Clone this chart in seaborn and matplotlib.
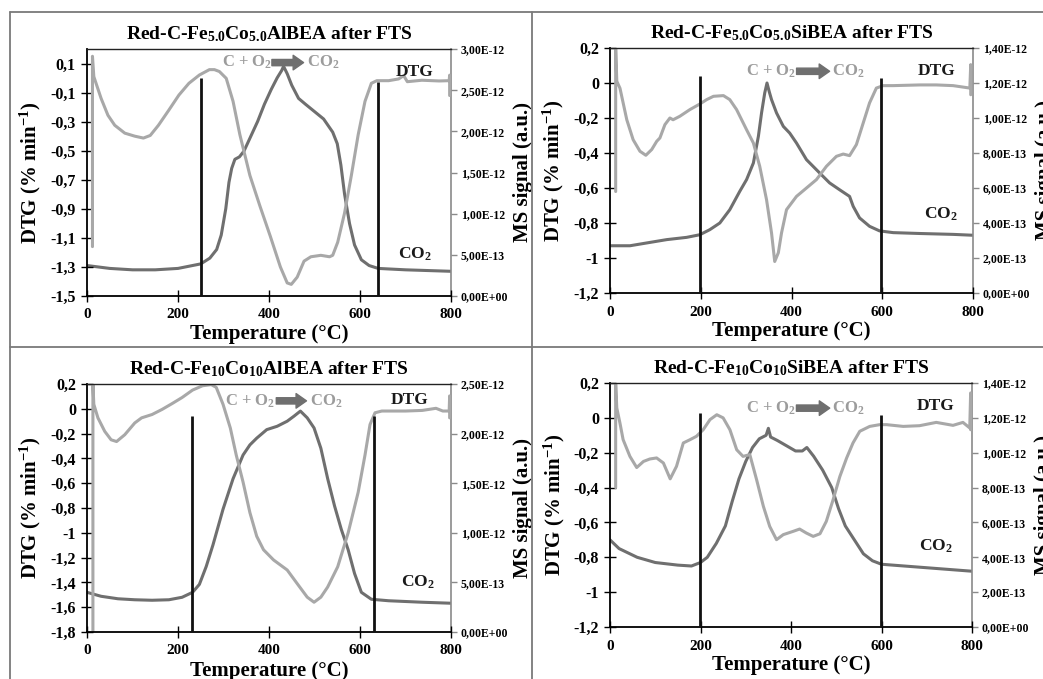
import matplotlib
matplotlib.use("Agg")
import matplotlib.pyplot as plt
from matplotlib.lines import Line2D
import seaborn as sns

sns.set_theme(style="white")
plt.rcParams['font.family'] = ['Liberation Serif', 'DejaVu Serif']
plt.rcParams['font.weight'] = 'bold'
plt.rcParams['mathtext.fontset'] = 'custom'
plt.rcParams['mathtext.rm'] = 'Liberation Serif:bold'
plt.rcParams['mathtext.bf'] = 'Liberation Serif:bold'
plt.rcParams['mathtext.it'] = 'Liberation Serif:bold'
plt.rcParams['mathtext.default'] = 'bf'

# ---------------- data ----------------
titles = ["Red-C-Fe$_{5.0}$Co$_{5.0}$AlBEA after FTS",
          "Red-C-Fe$_{5.0}$Co$_{5.0}$SiBEA after FTS",
          "Red-C-Fe$_{10}$Co$_{10}$AlBEA after FTS",
          "Red-C-Fe$_{10}$Co$_{10}$SiBEA after FTS"]

x_ticks = [0, 200, 400, 600, 800]
x_tick_labels = ["0", "200", "400", "600", "800"]

# Panel 1: Fe5.0Co5.0AlBEA
t_dtg_1 = [12, 12, 15, 31, 46, 61, 83, 105, 124, 139, 157, 180, 202, 224, 247, 269, 280, 291, 306, 321,
           336, 358, 380, 403, 425, 440, 449, 462, 477, 492, 514, 533, 540, 551, 566, 581, 596, 611, 625,
           637, 663, 685, 696, 704, 736, 774, 796, 797, 797]
dtg_1 = [-1.16, 0.15, 0.01, -0.14, -0.256, -0.325, -0.379, -0.40, -0.413, -0.395, -0.325, -0.22, -0.117,
         -0.036, 0.021, 0.058, 0.058, 0.045, -0.002, -0.16, -0.39, -0.67, -0.88, -1.09, -1.30, -1.41, -1.42,
         -1.37, -1.26, -1.23, -1.22, -1.23, -1.22, -1.13, -0.93, -0.67, -0.39, -0.16, -0.036, -0.018,
         -0.018, -0.006, 0.017, -0.025, -0.015, -0.02, -0.018, 0.02, -0.12]
t_co2_1 = [0, 50, 100, 150, 200, 250, 270, 285, 295, 305, 312, 318, 325, 335, 345, 360, 375, 390, 405, 418,
           428, 432, 440, 450, 465, 480, 500, 520, 540, 550, 558, 566, 577, 588, 603, 620, 640, 700, 800]
co2_1 = [0.37, 0.335, 0.318, 0.318, 0.335, 0.39, 0.46, 0.565, 0.74, 1.06, 1.38, 1.55, 1.66, 1.69, 1.76,
         1.94, 2.12, 2.33, 2.51, 2.65, 2.74, 2.79, 2.70, 2.56, 2.40, 2.33, 2.24, 2.15, 1.99, 1.85, 1.59,
         1.24, 0.88, 0.62, 0.44, 0.37, 0.335, 0.318, 0.30]
vline_t_1 = [251, 639]
vline_top_1 = [0.0, -0.03]
left_ticks_1 = [-1.5, -1.3, -1.1, -0.9, -0.7, -0.5, -0.3, -0.1, 0.1]
left_labels_1 = ["-1,5", "-1,3", "-1,1", "-0,9", "-0,7", "-0,5", "-0,3", "-0,1", "0,1"]
right_ticks_1 = [0, 0.5, 1.0, 1.5, 2.0, 2.5, 3.0]
right_labels_1 = ["0,00E+00", "5,00E-13", "1,00E-12", "1,50E-12", "2,00E-12", "2,50E-12", "3,00E-12"]

# Panel 2: Fe5.0Co5.0SiBEA
t_dtg_2 = [12.5, 12.5, 15, 22, 29, 37, 51, 66, 79, 92, 103, 110, 121, 132, 139, 154, 176, 198, 213, 228,
           250, 264, 279, 301, 316, 330, 345, 356, 363, 371, 378, 389, 411, 433, 455, 477, 499, 514, 528,
           543, 558, 572, 587, 602, 624, 683, 719, 756, 793, 795, 795]
dtg_2 = [-0.62, 0.2, 0.01, -0.03, -0.114, -0.21, -0.324, -0.39, -0.413, -0.38, -0.333, -0.314, -0.238,
         -0.2, -0.21, -0.19, -0.152, -0.12, -0.095, -0.076, -0.072, -0.095, -0.152, -0.267, -0.343, -0.476,
         -0.667, -0.857, -1.02, -0.97, -0.857, -0.724, -0.648, -0.6, -0.552, -0.476, -0.419, -0.406,
         -0.415, -0.352, -0.229, -0.114, -0.029, -0.015, -0.015, -0.011, -0.011, -0.015, -0.029, 0.105,
         -0.067]
t_co2_2 = [0, 44, 81, 125, 169, 198, 220, 242, 264, 286, 301, 316, 327, 334, 341, 346, 351, 356, 367, 382,
           396, 411, 433, 462, 484, 506, 528, 536, 550, 572, 594, 624, 683, 756, 800]
co2_2 = [0.27, 0.27, 0.286, 0.305, 0.318, 0.333, 0.362, 0.40, 0.476, 0.581, 0.648, 0.743, 0.895, 1.029,
         1.143, 1.20, 1.15, 1.105, 1.029, 0.952, 0.914, 0.857, 0.762, 0.686, 0.629, 0.590, 0.552, 0.495,
         0.429, 0.381, 0.355, 0.345, 0.34, 0.335, 0.33]
vline_t_2 = [198, 598]
vline_top_2 = [0.038, 0.029]
left_ticks_2 = [-1.2, -1.0, -0.8, -0.6, -0.4, -0.2, 0.0, 0.2]
left_labels_2 = ["-1,2", "-1", "-0,8", "-0,6", "-0,4", "-0,2", "0", "0,2"]
right_ticks_2 = [0, 0.2, 0.4, 0.6, 0.8, 1.0, 1.2, 1.4]
right_labels_2 = ["0,00E+00", "2,00E-13", "4,00E-13", "6,00E-13", "8,00E-13", "1,00E-12", "1,20E-12",
                  "1,40E-12"]

# Panel 3: Fe10Co10AlBEA
t_dtg_3 = [13, 13, 15, 24, 39, 53, 65, 83, 105, 120, 143, 165, 187, 209, 232, 254, 273, 284, 299, 315,
           328, 343, 358, 373, 388, 410, 440, 462, 484, 499, 514, 529, 551, 574, 596, 611, 622, 633, 648,
           700, 737, 767, 782, 796, 797, 797]
dtg_3 = [-1.8, 0.2, 0.036, -0.073, -0.182, -0.25, -0.264, -0.209, -0.114, -0.073, -0.046, -0.005, 0.042,
         0.091, 0.151, 0.186, 0.195, 0.173, 0.036, -0.155, -0.373, -0.591, -0.837, -1.028, -1.137, -1.219,
         -1.30, -1.41, -1.519, -1.56, -1.519, -1.437, -1.274, -1.0, -0.673, -0.373, -0.127, -0.032, -0.018,
         -0.018, -0.013, 0.004, -0.018, -0.018, 0.104, -0.073]
t_co2_3 = [0, 31, 68, 105, 143, 180, 209, 232, 247, 262, 277, 299, 321, 343, 358, 373, 395, 418, 440, 455,
           469, 484, 499, 514, 529, 544, 559, 574, 588, 603, 625, 663, 737, 800]
co2_3 = [0.40, 0.36, 0.335, 0.325, 0.32, 0.325, 0.35, 0.40, 0.48, 0.66, 0.88, 1.238, 1.545, 1.784,
         1.886, 1.954, 2.04, 2.074, 2.125, 2.176, 2.227, 2.159, 2.057, 1.852, 1.545, 1.272, 1.033, 0.829,
         0.59, 0.40, 0.33, 0.315, 0.30, 0.29]
vline_t_3 = [230, 631]
vline_top_3 = [-0.06, -0.06]
left_ticks_3 = [-1.8, -1.6, -1.4, -1.2, -1.0, -0.8, -0.6, -0.4, -0.2, 0.0, 0.2]
left_labels_3 = ["-1,8", "-1,6", "-1,4", "-1,2", "-1", "-0,8", "-0,6", "-0,4", "-0,2", "0", "0,2"]
right_ticks_3 = [0, 0.5, 1.0, 1.5, 2.0, 2.5]
right_labels_3 = ["0,00E+00", "5,00E-13", "1,00E-12", "1,50E-12", "2,00E-12", "2,50E-12"]

# Panel 4: Fe10Co10SiBEA
t_dtg_4 = [12.5, 12.5, 15, 22, 29, 44, 59, 74, 88, 103, 118, 133, 147, 162, 177, 191, 206, 221, 236, 250,
           265, 280, 294, 309, 324, 339, 353, 368, 383, 405, 419, 434, 449, 464, 478, 493, 508, 523, 537,
           552, 574, 596, 611, 648, 684, 721, 758, 780, 795, 797, 797]
dtg_4 = [-0.40, 0.2, 0.057, -0.03, -0.125, -0.221, -0.285, -0.25, -0.236, -0.23, -0.259, -0.35, -0.278,
         -0.144, -0.125, -0.106, -0.068, -0.01, 0.018, 0.0, -0.068, -0.183, -0.221, -0.211, -0.355, -0.508,
         -0.623, -0.699, -0.67, -0.651, -0.638, -0.661, -0.68, -0.665, -0.594, -0.47, -0.336, -0.23,
         -0.144, -0.077, -0.049, -0.039, -0.039, -0.049, -0.045, -0.026, -0.043, -0.026, -0.058, 0.143,
         -0.068]
t_co2_4 = [0, 20, 60, 100, 150, 180, 200, 215, 235, 255, 270, 285, 300, 315, 330, 345, 350, 355, 370, 390,
           410, 425, 435, 450, 470, 490, 505, 520, 540, 560, 580, 600, 650, 700, 750, 800]
co2_4 = [0.50, 0.45, 0.40, 0.37, 0.355, 0.35, 0.37, 0.40, 0.48, 0.58, 0.72, 0.85, 0.95, 1.03, 1.08, 1.10,
         1.14, 1.09, 1.07, 1.04, 1.01, 1.01, 1.03, 0.98, 0.90, 0.80, 0.68, 0.58, 0.50, 0.42, 0.38, 0.36,
         0.35, 0.34, 0.33, 0.32]
vline_t_4 = [199, 598]
vline_top_4 = [0.028, 0.018]
left_ticks_4 = left_ticks_2
left_labels_4 = left_labels_2
right_ticks_4 = right_ticks_2
right_labels_4 = right_labels_2

ms_scale = 1e-12

# ---------------- styling / layout ----------------
W, H = 1043, 679
fig = plt.figure(figsize=(W / 100, H / 100), dpi=100)

def px_axes(x0, x1, ytop, ybot):
    return [x0 / W, 1 - ybot / H, (x1 - x0) / W, (ybot - ytop) / H]

panels = [
    dict(rect=px_axes(87, 451, 49, 296), title=titles[0], t_dtg=t_dtg_1, dtg=dtg_1, t_co2=t_co2_1,
         co2=co2_1, vt=vline_t_1, vtop=vline_top_1, lt=left_ticks_1, ll=left_labels_1,
         rt=right_ticks_1, rl=right_labels_1, ylim=(-1.5, 0.2), rlim=(0, 3.0),
         eq=(0.371, 0.945, 0.508, 0.595, 0.604), dtg_lab=(0.90, 0.906), co2_lab=(0.90, 0.17)),
    dict(rect=px_axes(610, 973, 48, 293), title=titles[1], t_dtg=t_dtg_2, dtg=dtg_2, t_co2=t_co2_2,
         co2=co2_2, vt=vline_t_2, vtop=vline_top_2, lt=left_ticks_2, ll=left_labels_2,
         rt=right_ticks_2, rl=right_labels_2, ylim=(-1.2, 0.2), rlim=(0, 1.4),
         eq=(0.374, 0.905, 0.514, 0.605, 0.611), dtg_lab=(0.90, 0.907), co2_lab=(0.912, 0.32)),
    dict(rect=px_axes(87, 451, 384, 632), title=titles[2], t_dtg=t_dtg_3, dtg=dtg_3, t_co2=t_co2_3,
         co2=co2_3, vt=vline_t_3, vtop=vline_top_3, lt=left_ticks_3, ll=left_labels_3,
         rt=right_ticks_3, rl=right_labels_3, ylim=(-1.8, 0.2), rlim=(0, 2.5),
         eq=(0.378, 0.932, 0.52, 0.603, 0.612), dtg_lab=(0.886, 0.934), co2_lab=(0.909, 0.2)),
    dict(rect=px_axes(610, 972, 383, 627), title=titles[3], t_dtg=t_dtg_4, dtg=dtg_4, t_co2=t_co2_4,
         co2=co2_4, vt=vline_t_4, vtop=vline_top_4, lt=left_ticks_4, ll=left_labels_4,
         rt=right_ticks_4, rl=right_labels_4, ylim=(-1.2, 0.2), rlim=(0, 1.4),
         eq=(0.375, 0.897, 0.515, 0.607, 0.613), dtg_lab=(0.90, 0.904), co2_lab=(0.90, 0.33)),
]

DTG_C = '#a8a8a8'
CO2_C = '#6f6f6f'
TXT_GRAY = '#9c9c9c'
AX_GRAY = '#8a8a8a'

for i, p in enumerate(panels):
    ax = fig.add_axes(p['rect'])
    ax2 = ax.twinx()
    ax.set_zorder(ax2.get_zorder() + 1)
    ax.patch.set_visible(False)

    sns.lineplot(x=p['t_co2'], y=[v * ms_scale for v in p['co2']], ax=ax2,
                 color=CO2_C, lw=2.2, estimator=None, sort=False, legend=False)
    sns.lineplot(x=p['t_dtg'], y=p['dtg'], ax=ax, color=DTG_C, lw=2.2,
                 estimator=None, sort=False, legend=False)
    ax.vlines(p['vt'], p['ylim'][0], p['vtop'], color='#111111', lw=2.0, zorder=5)

    ax.set_xlim(0, 800)
    ax.set_ylim(*p['ylim'])
    ax2.set_ylim(p['rlim'][0] * ms_scale, p['rlim'][1] * ms_scale)
    ax.set_xticks(x_ticks)
    ax.set_xticklabels(x_tick_labels, fontsize=11, fontweight='bold')
    ax.set_yticks(p['lt'])
    ax.set_yticklabels(p['ll'], fontsize=11.5, fontweight='bold')
    ax2.set_yticks([v * ms_scale for v in p['rt']])
    ax2.set_yticklabels(p['rl'], fontsize=8.5, fontweight='bold')

    ax.tick_params(axis='both', direction='inout', length=8, width=1.0, color='black',
                   labelcolor='black', pad=4, left=True, bottom=True)
    ax.tick_params(axis='x', pad=5)
    ax2.tick_params(axis='y', direction='out', length=4, width=1.0, color=AX_GRAY,
                    labelcolor='black', pad=3, right=True)
    for s in ['left', 'bottom']:
        ax.spines[s].set_color('black')
        ax.spines[s].set_linewidth(1.3)
    ax.spines['top'].set_color('#222222')
    ax.spines['top'].set_linewidth(1.0)
    ax.spines['right'].set_visible(False)
    for s in ['left', 'bottom', 'top']:
        ax2.spines[s].set_visible(False)
    ax2.spines['right'].set_color(AX_GRAY)
    ax2.spines['right'].set_linewidth(1.2)

    ax.set_xlabel("Temperature (°C)", fontsize=15, fontweight='bold', color='black')
    ax.xaxis.set_label_coords(0.5, -0.115)
    ax.set_ylabel("DTG (% min$^{-1}$)", fontsize=15, fontweight='bold', color='black')
    ax.yaxis.set_label_coords(-0.12, 0.5)
    ax2.set_ylabel("MS signal (a.u.)", fontsize=15, fontweight='bold', color='black')
    ax2.yaxis.set_label_coords(1.17, 0.5)

    ax.text(0.5, 1.06, p['title'], transform=ax.transAxes, ha='center', va='center',
            fontsize=14, fontweight='bold', color='black')

    ex0, ey, ea0, ea1, ex1 = p['eq']
    ax.text(ex0, ey, "C + O$_2$", transform=ax.transAxes, ha='left', va='center',
            fontsize=12, color=TXT_GRAY, fontweight='bold')
    ax.annotate("", xy=(ea1, ey), xytext=(ea0, ey), xycoords='axes fraction',
                arrowprops=dict(arrowstyle='simple,head_length=0.5,head_width=0.7,tail_width=0.3',
                                color=CO2_C, mutation_scale=15, shrinkA=0, shrinkB=0))
    ax.text(ex1, ey, "CO$_2$", transform=ax.transAxes, ha='left', va='center',
            fontsize=12, color=TXT_GRAY, fontweight='bold')
    ax.text(p['dtg_lab'][0], p['dtg_lab'][1], "DTG", transform=ax.transAxes, ha='center',
            va='center', fontsize=12.5, color='#1a1a1a', fontweight='bold')
    ax.text(p['co2_lab'][0], p['co2_lab'][1], "CO$_2$", transform=ax.transAxes, ha='center',
            va='center', fontsize=12.5, color='#1a1a1a', fontweight='bold')

# panel frame lines
frame_c = '#7a7a7a'
def fl(x0, y0, x1, y1):
    fig.add_artist(Line2D([x0 / W, x1 / W], [1 - y0 / H, 1 - y1 / H], color=frame_c, lw=1.3,
                          transform=fig.transFigure))
fl(10, 12, W, 12)
fl(10, 12, 10, H)
fl(532, 12, 532, H)
fl(10, 347, W, 347)

fig.savefig("out.png", dpi=100)
